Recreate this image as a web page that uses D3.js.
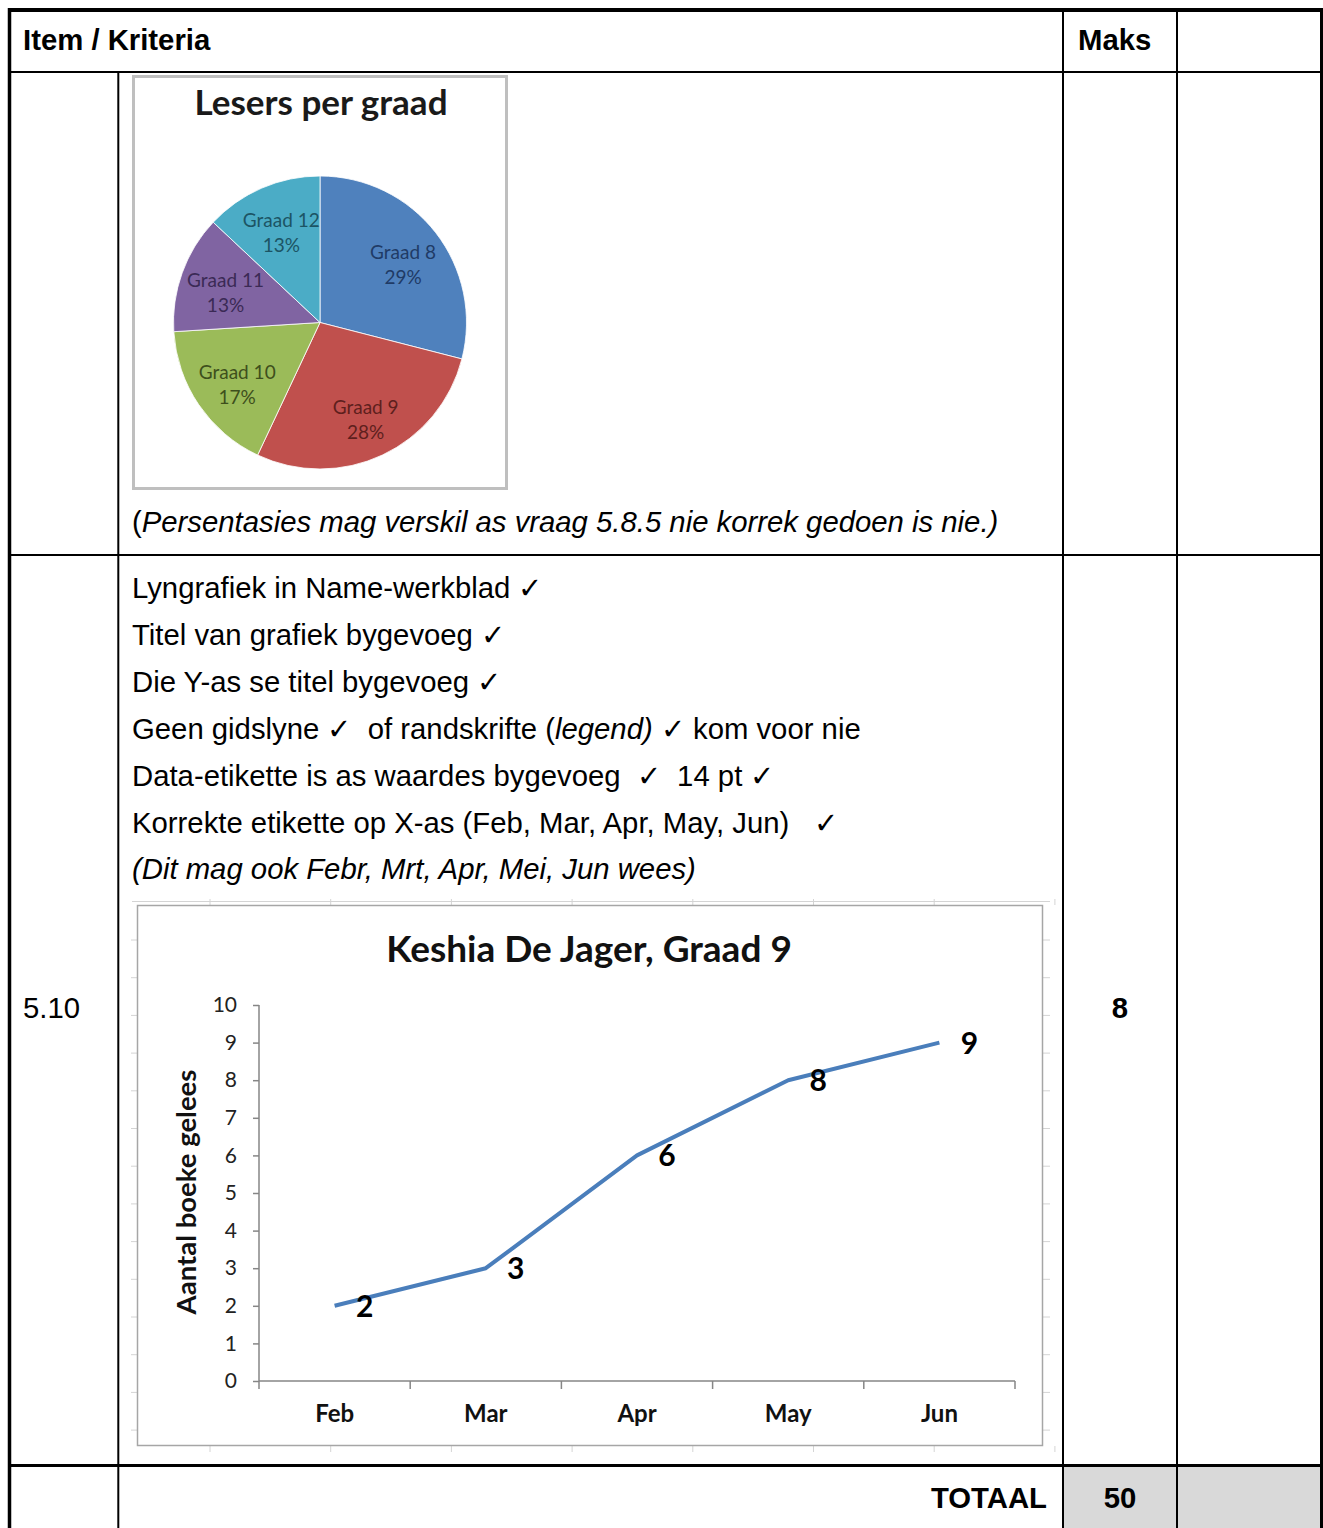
<!DOCTYPE html>
<html>
<head>
<meta charset="utf-8">
<script src="https://cdn.jsdelivr.net/npm/d3@7"></script>
<style>
  html, body { margin: 0; padding: 0; background: #fff; }
  svg { display: block; }
  .arial { font-family: "Liberation Sans", Arial, sans-serif; }
  .cal { font-family: Lato, "Open Sans", sans-serif; }
</style>
</head>
<body>
<svg id="page" width="1323" height="1528"></svg>
<script>
// ---------------- DATA ----------------
const pieTitle = "Lesers per graad";
const pieCategories = ["Graad 8", "Graad 9", "Graad 10", "Graad 11", "Graad 12"];
const piePercents = [29, 28, 17, 13, 13];
const pieColors = ["#4f81bd", "#c0504d", "#9bbb59", "#8064a2", "#4bacc6"];
const pieLabelColors = ["#1f3b66", "#5e1f1d", "#3e4f1c", "#3b2a55", "#1c5464"];

const lineTitle = "Keshia De Jager, Graad 9";
const yAxisTitle = "Aantal boeke gelees";
const months = ["Feb", "Mar", "Apr", "May", "Jun"];
const booksRead = [2, 3, 6, 8, 9];
const yTickValues = [0, 1, 2, 3, 4, 5, 6, 7, 8, 9, 10];

const headerLabels = ["Item / Kriteria", "Maks"];
const itemNumber = "5.10";
const itemMarks = "8";
const totalLabel = "TOTAAL";
const totalMarks = "50";
const criteria = [
  [{t: "Lyngrafiek in Name-werkblad \u2713"}],
  [{t: "Titel van grafiek bygevoeg \u2713"}],
  [{t: "Die Y-as se titel bygevoeg \u2713"}],
  [{t: "Geen gidslyne \u2713  of randskrifte ("}, {t: "legend)", i: true}, {t: " \u2713 kom voor nie"}],
  [{t: "Data-etikette is as waardes bygevoeg  \u2713  14 pt \u2713"}],
  [{t: "Korrekte etikette op X-as (Feb, Mar, Apr, May, Jun)   \u2713"}],
  [{t: "(Dit mag ook Febr, Mrt, Apr, Mei, Jun wees)", i: true}]
];
const pieNote = [{t: "("}, {t: "Persentasies mag verskil as vraag 5.8.5 nie korrek gedoen is nie.)", i: true}];

// ---------------- PAGE / TABLE ----------------
const FS = 29.3;
const svg = d3.select("#page");

svg.append("rect").attr("x", 1063).attr("y", 1466).attr("width", 258).attr("height", 62).attr("fill", "#d9d9d9");

const lines = svg.append("g").attr("stroke", "#000");
lines.append("line").attr("x1", 8).attr("x2", 1323).attr("y1", 10).attr("y2", 10).attr("stroke-width", 4);
lines.append("line").attr("x1", 9.5).attr("x2", 9.5).attr("y1", 8).attr("y2", 1528).attr("stroke-width", 3.5);
lines.append("line").attr("x1", 1321.5).attr("x2", 1321.5).attr("y1", 8).attr("y2", 1528).attr("stroke-width", 3);
lines.append("line").attr("x1", 9).attr("x2", 1322).attr("y1", 72).attr("y2", 72).attr("stroke-width", 2);
lines.append("line").attr("x1", 9).attr("x2", 1322).attr("y1", 555).attr("y2", 555).attr("stroke-width", 2);
lines.append("line").attr("x1", 9).attr("x2", 1322).attr("y1", 1465.5).attr("y2", 1465.5).attr("stroke-width", 3);
lines.append("line").attr("x1", 118.3).attr("x2", 118.3).attr("y1", 72).attr("y2", 1528).attr("stroke-width", 2);
lines.append("line").attr("x1", 1063).attr("x2", 1063).attr("y1", 10).attr("y2", 1528).attr("stroke-width", 2);
lines.append("line").attr("x1", 1177).attr("x2", 1177).attr("y1", 10).attr("y2", 1528).attr("stroke-width", 2);

const txt = svg.append("g").attr("class", "arial").attr("fill", "#000");
txt.append("text").attr("x", 23).attr("y", 50).attr("font-size", FS).attr("font-weight", "bold").text(headerLabels[0]);
txt.append("text").attr("x", 1078).attr("y", 50).attr("font-size", FS).attr("font-weight", "bold").text(headerLabels[1]);
txt.append("text").attr("x", 23).attr("y", 1018).attr("font-size", FS).text(itemNumber);
txt.append("text").attr("x", 1120).attr("y", 1018).attr("font-size", FS).attr("font-weight", "bold").attr("text-anchor", "middle").text(itemMarks);
txt.append("text").attr("x", 1047).attr("y", 1508).attr("font-size", FS).attr("font-weight", "bold").attr("text-anchor", "end").text(totalLabel);
txt.append("text").attr("x", 1120).attr("y", 1508).attr("font-size", FS).attr("font-weight", "bold").attr("text-anchor", "middle").text(totalMarks);

function richLine(g, parts, x, y) {
  const t = g.append("text").attr("x", x).attr("y", y).attr("font-size", FS).style("white-space", "pre");
  parts.forEach(p => {
    t.append("tspan").attr("font-style", p.i ? "italic" : "normal").text(p.t);
  });
  return t;
}
richLine(txt, pieNote, 132, 532);
criteria.forEach((parts, i) => richLine(txt, parts, 132, 598 + i * 46.9));
txt.selectAll("tspan").filter(function() { return this.textContent.includes("\u2713"); })
  .each(function() {
    const s = d3.select(this); const raw = s.text(); s.text(null);
    raw.split(/(\u2713)/).forEach(piece => {
      if (!piece) return;
      const ts = s.append("tspan").text(piece);
      if (piece === "\u2713") ts.attr("font-size", FS * 0.98).attr("font-family", "DejaVu Sans").attr("font-weight", 300);
    });
  });

// ---------------- PIE CHART ----------------
const pieBox = {x: 132, y: 75, w: 376, h: 415};
const pg = svg.append("g");
pg.append("rect").attr("x", pieBox.x + 1.5).attr("y", pieBox.y + 1.5).attr("width", pieBox.w - 3).attr("height", pieBox.h - 3)
  .attr("fill", "#fff").attr("stroke", "#bfbfbf").attr("stroke-width", 3);
pg.append("text").attr("class", "cal").attr("x", 321).attr("y", 115).attr("text-anchor", "middle")
  .attr("font-size", 35).attr("font-weight", "bold").attr("fill", "#1a1a1a").text(pieTitle);

const pieData = pieCategories.map((c, i) => ({cat: c, value: piePercents[i], color: pieColors[i], lc: pieLabelColors[i]}));
const pie = d3.pie().sort(null).value(d => d.value);
const R = 146.5;
const arc = d3.arc().innerRadius(0).outerRadius(R);
const labelArc = d3.arc().innerRadius(R * 0.42).outerRadius(R * 0.98);
const pc = pg.append("g").attr("transform", "translate(320,322.5)");
const arcs = pie(pieData);
pc.selectAll("path").data(arcs).join("path").attr("d", arc).attr("fill", d => d.data.color)
  .attr("stroke", "#fff").attr("stroke-width", 0.8);
const pl = pc.selectAll("g.lab").data(arcs).join("g").attr("class", "lab cal")
  .attr("transform", d => { const c = labelArc.centroid(d); return `translate(${c[0] + 2},${c[1] + 3})`; });
pl.append("text").attr("text-anchor", "middle").attr("y", -4).attr("font-size", 19).attr("fill", d => d.data.lc).text(d => d.data.cat);
pl.append("text").attr("text-anchor", "middle").attr("y", 21).attr("font-size", 19).attr("fill", d => d.data.lc)
  .text(d => Math.round(d.data.value) + "%");

// ---------------- LINE CHART ----------------
const lg = svg.append("g");
const grid = lg.append("g").attr("stroke", "#d4d4d4").attr("stroke-width", 1);
grid.append("line").attr("x1", 132).attr("x2", 1050).attr("y1", 901.5).attr("y2", 901.5);
d3.range(8).forEach(i => {
  const gx = 210 + i * 120.7;
  grid.append("line").attr("x1", gx).attr("x2", gx).attr("y1", 899).attr("y2", 905);
  grid.append("line").attr("x1", gx).attr("x2", gx).attr("y1", 1446).attr("y2", 1452);
});
d3.range(14).forEach(i => {
  const gy = 940 + i * 37.7;
  grid.append("line").attr("x1", 131).attr("x2", 138).attr("y1", gy).attr("y2", gy);
  grid.append("line").attr("x1", 1042).attr("x2", 1050).attr("y1", gy).attr("y2", gy);
});
lg.append("rect").attr("x", 137.5).attr("y", 905.5).attr("width", 905).attr("height", 540)
  .attr("fill", "#fff").attr("stroke", "#a6a6a6").attr("stroke-width", 1.5);

lg.append("text").attr("class", "cal").attr("x", 589).attr("y", 962).attr("text-anchor", "middle")
  .attr("font-size", 37).attr("font-weight", "bold").attr("fill", "#111").text(lineTitle);

const x = d3.scaleBand().domain(months).range([259, 1015]).paddingInner(0).paddingOuter(0);
const y = d3.scaleLinear().domain([0, 10]).range([1381, 1005]);
const cx = m => x(m) + x.bandwidth() / 2;

const yAxis = lg.append("g").attr("class", "cal").attr("transform", "translate(259,0)")
  .call(d3.axisLeft(y).tickValues(yTickValues).tickSize(6).tickPadding(16).tickFormat(d3.format("d")));
yAxis.select(".domain").attr("stroke", "#868686").attr("stroke-width", 1.5).attr("d", "M0,1005V1381");
yAxis.selectAll(".tick line").attr("stroke", "#868686").attr("stroke-width", 1.5);
yAxis.selectAll(".tick text").attr("font-size", 21).attr("fill", "#222").attr("font-family", "Lato, sans-serif");

const xAxis = lg.append("g").attr("class", "cal").attr("transform", "translate(0,1381)")
  .call(d3.axisBottom(x).tickSize(0).tickPadding(24));
xAxis.select(".domain").attr("stroke", "#868686").attr("stroke-width", 1.5).attr("d", "M259,0H1015");
xAxis.selectAll(".tick text").attr("font-size", 24).attr("font-weight", "bold").attr("fill", "#111").attr("font-family", "Lato, sans-serif");
const bounds = d3.range(months.length + 1).map(i => x.range()[0] + i * x.step());
xAxis.selectAll("line.bt").data(bounds).join("line").attr("class", "bt")
  .attr("x1", d => d).attr("x2", d => d).attr("y1", 0).attr("y2", 8)
  .attr("stroke", "#868686").attr("stroke-width", 1.5);

lg.append("text").attr("class", "cal").attr("transform", "translate(196,1192) rotate(-90)").attr("text-anchor", "middle")
  .attr("font-size", 27.5).attr("font-weight", "bold").attr("fill", "#111").text(yAxisTitle);

const pts = months.map((m, i) => ({m, v: booksRead[i]}));
lg.append("path").datum(pts).attr("fill", "none").attr("stroke", "#4a7ebb").attr("stroke-width", 4)
  .attr("stroke-linejoin", "round")
  .attr("d", d3.line().x(d => cx(d.m)).y(d => y(d.v)));
lg.selectAll("text.dl").data(pts).join("text").attr("class", "dl cal")
  .attr("x", d => cx(d.m) + 30).attr("y", d => y(d.v) + 11).attr("text-anchor", "middle")
  .attr("font-size", 30).attr("font-weight", "bold").attr("fill", "#000").text(d => d.v);
</script>
</body>
</html>
